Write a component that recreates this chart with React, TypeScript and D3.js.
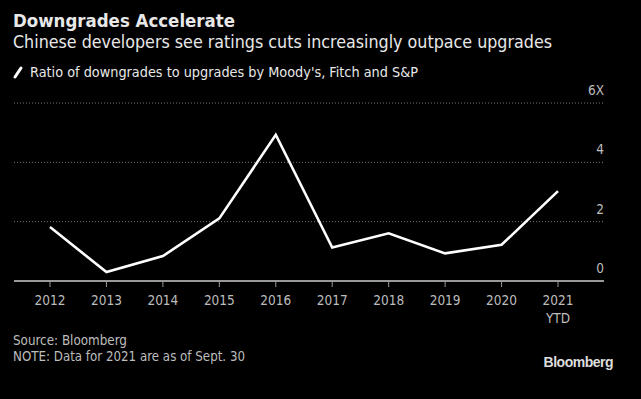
import * as d3 from "d3";
import { useEffect, useRef } from "react";

const years = ["2012", "2013", "2014", "2015", "2016", "2017", "2018", "2019", "2020", "2021"];
const ratios = [1.82, 0.3, 0.84, 2.11, 4.93, 1.13, 1.61, 0.93, 1.22, 3.03];
const yTicks = [0, 2, 4, 6];

const W = 641;
const H = 399;
const FONT = "'DejaVu Sans Condensed', 'DejaVu Sans', sans-serif";
const TEXT = "#e8e8e8";
const GREY = "#bdbdbd";

export default function App() {
  const ref = useRef<SVGSVGElement | null>(null);

  useEffect(() => {
    document.body.style.margin = "0";
    document.body.style.background = "#000";
    if (!ref.current) return;
    const svg = d3.select(ref.current);
    svg.selectAll("*").remove();

    svg.append("rect").attr("width", W).attr("height", H).attr("fill", "#000");

    const x = d3.scalePoint<string>().domain(years).range([50, 558]);
    const y = d3.scaleLinear().domain([0, 6]).range([281, 103]);
    const left = 14;
    const right = 604;

    // titles
    svg.append("text").attr("x", 13).attr("y", 27).attr("fill", TEXT)
      .style("font-family", FONT).style("font-weight", "bold").style("font-size", "18.5px")
      .attr("textLength", 222).attr("lengthAdjust", "spacingAndGlyphs")
      .text("Downgrades Accelerate");
    svg.append("text").attr("x", 13).attr("y", 48).attr("fill", TEXT)
      .style("font-family", FONT).style("font-size", "17.5px")
      .attr("textLength", 539).attr("lengthAdjust", "spacingAndGlyphs")
      .text("Chinese developers see ratings cuts increasingly outpace upgrades");

    // legend
    svg.append("line").attr("x1", 15).attr("y1", 77).attr("x2", 21).attr("y2", 68)
      .attr("stroke", "#fff").attr("stroke-width", 3).attr("stroke-linecap", "round");
    svg.append("text").attr("x", 30).attr("y", 77).attr("fill", TEXT)
      .style("font-family", FONT).style("font-size", "14px")
      .attr("textLength", 388).attr("lengthAdjust", "spacingAndGlyphs")
      .text("Ratio of downgrades to upgrades by Moody's, Fitch and S&P");

    // grid + y labels
    const g = svg.append("g");
    g.selectAll("line.grid").data(yTicks.filter((d) => d > 0)).join("line")
      .attr("class", "grid")
      .attr("x1", left).attr("x2", right)
      .attr("y1", (d) => y(d)).attr("y2", (d) => y(d))
      .attr("stroke", "#777").attr("stroke-width", 1).attr("stroke-dasharray", "1,2");
    g.selectAll("text.ylab").data(yTicks).join("text")
      .attr("class", "ylab")
      .attr("x", right).attr("y", (d) => y(d) - 8)
      .attr("text-anchor", "end").attr("fill", GREY)
      .style("font-family", FONT).style("font-size", "13.5px")
      .text((d) => (d === 6 ? "6X" : String(d)));

    // x axis
    svg.append("line").attr("x1", left).attr("x2", right).attr("y1", y(0)).attr("y2", y(0))
      .attr("stroke", "#999").attr("stroke-width", 2);
    svg.selectAll("line.tick").data(years).join("line")
      .attr("class", "tick")
      .attr("x1", (d) => x(d)!).attr("x2", (d) => x(d)!)
      .attr("y1", y(0)).attr("y2", y(0) + 6)
      .attr("stroke", "#999").attr("stroke-width", 1);
    svg.selectAll("text.xlab").data(years).join("text")
      .attr("class", "xlab")
      .attr("x", (d) => x(d)!).attr("y", 305)
      .attr("text-anchor", "middle").attr("fill", GREY)
      .style("font-family", FONT).style("font-size", "13.5px")
      .text((d) => d);
    svg.append("text").attr("x", x("2021")!).attr("y", 323)
      .attr("text-anchor", "middle").attr("fill", GREY)
      .style("font-family", FONT).style("font-size", "13.5px").text("YTD");

    // line
    const line = d3.line<number>().x((_, i) => x(years[i])!).y((d) => y(d));
    svg.append("path").datum(ratios).attr("d", line)
      .attr("fill", "none").attr("stroke", "#fff").attr("stroke-width", 2.6)
      .attr("stroke-linejoin", "miter");

    // footer
    svg.append("text").attr("x", 13).attr("y", 345).attr("fill", GREY)
      .style("font-family", FONT).style("font-size", "13.3px").text("Source: Bloomberg");
    svg.append("text").attr("x", 13).attr("y", 361).attr("fill", GREY)
      .style("font-family", FONT).style("font-size", "13.3px")
      .attr("textLength", 232).attr("lengthAdjust", "spacingAndGlyphs")
      .text("NOTE: Data for 2021 are as of Sept. 30");
    svg.append("text").attr("x", 613).attr("y", 367).attr("text-anchor", "end").attr("fill", "#ddd")
      .style("font-family", "'Liberation Sans', Arial, sans-serif").style("font-weight", "bold")
      .style("font-size", "14px").style("letter-spacing", "-0.5px").text("Bloomberg");
  }, []);

  return <svg ref={ref} width={W} height={H} style={{ display: "block" }} />;
}
